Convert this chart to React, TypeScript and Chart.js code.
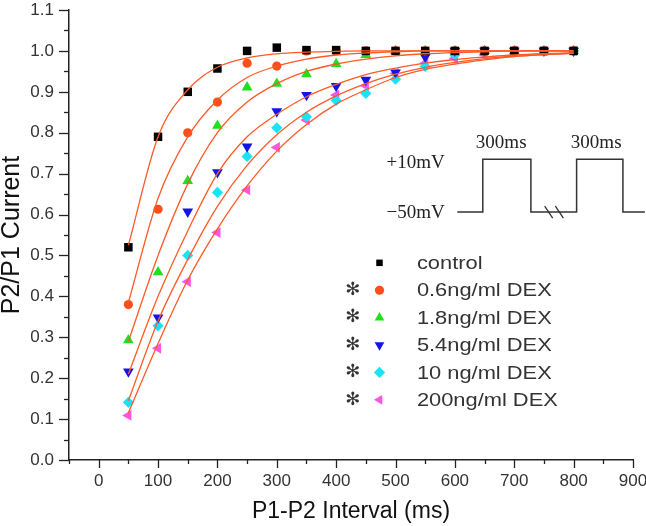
import React, { useEffect, useRef } from 'react';
import { Chart, registerables } from 'chart.js';

Chart.register(...registerables);

// ---------- data ----------
const intervals = [50, 100, 150, 200, 250, 300, 350, 400, 450, 500, 550, 600, 650, 700, 750, 800];

const seriesLabels = ['control', '0.6ng/ml DEX', '1.8ng/ml DEX', '5.4ng/ml DEX', '10 ng/ml DEX', '200ng/ml DEX'];
const significant = [false, true, true, true, true, true];

const controlData = [0.52, 0.79, 0.9, 0.957, 1.0, 1.008, 1.002, 1.002, 1.0, 1.0, 1.0, 1.0, 1.0, 1.0, 1.0, 1.0];
const dex06Data = [0.38, 0.613, 0.8, 0.875, 0.97, 0.963, 1.0, 1.0, 1.0, 1.0, 1.0, 1.0, 1.0, 1.0, 1.0, 1.0];
const dex18Data = [0.293, 0.459, 0.682, 0.817, 0.911, 0.92, 0.943, 0.968, 0.99, 1.0, 1.0, 1.0, 1.0, 1.0, 1.0, 1.0];
const dex54Data = [0.216, 0.348, 0.607, 0.703, 0.766, 0.852, 0.892, 0.914, 0.929, 0.947, 0.985, 1.0, 1.0, 1.0, 1.0, 1.0];
const dex10Data = [0.141, 0.328, 0.5, 0.654, 0.742, 0.812, 0.839, 0.879, 0.896, 0.931, 0.962, 0.99, 1.0, 1.0, 1.0, 1.0];
const dex200Data = [0.109, 0.273, 0.436, 0.556, 0.66, 0.764, 0.831, 0.892, 0.915, 0.945, 0.97, 0.982, 0.99, 1.0, 1.0, 1.0];

// fitted curves at the same intervals
const fitControl = [0.525, 0.79, 0.905, 0.96, 0.983, 0.993, 0.997, 0.999, 1.0, 1.0, 1.0, 1.0, 1.0, 1.0, 1.0, 1.0];
const fitDex06 = [0.385, 0.64, 0.79, 0.88, 0.935, 0.963, 0.98, 0.99, 0.995, 0.998, 1.0, 1.0, 1.0, 1.0, 1.0, 1.0];
const fitDex18 = [0.29, 0.5, 0.675, 0.8, 0.875, 0.92, 0.95, 0.968, 0.98, 0.988, 0.993, 0.996, 0.998, 1.0, 1.0, 1.0];
const fitDex54 = [0.21, 0.4, 0.56, 0.7, 0.79, 0.845, 0.888, 0.918, 0.942, 0.958, 0.97, 0.979, 0.985, 0.99, 0.993, 0.995];
const fitDex10 = [0.145, 0.34, 0.49, 0.62, 0.72, 0.795, 0.85, 0.89, 0.92, 0.943, 0.96, 0.972, 0.981, 0.987, 0.991, 0.994];
const fitDex200 = [0.115, 0.285, 0.44, 0.565, 0.67, 0.755, 0.82, 0.87, 0.905, 0.935, 0.955, 0.968, 0.978, 0.986, 0.991, 0.995];

const pointSeries = [controlData, dex06Data, dex18Data, dex54Data, dex10Data, dex200Data];
const fitSeries = [fitControl, fitDex06, fitDex18, fitDex54, fitDex10, fitDex200];

// ---------- styles / layout ----------
const pointColors = ['#000000', '#ff4d1c', '#1fe01f', '#1414e6', '#19e3f5', '#ff55e1'];
const pointStyles = ['rect', 'circle', 'triangle', 'triangle', 'rectRot', 'triangle'];
const pointRotations = [0, 0, 0, 180, 0, 270];
const pointRadii = [6, 4.6, 6.2, 6.2, 5.6, 6.2];
const fitColor = '#ff5a26';

// legend position (data units)
const legendTop = 0.482;
const legendStep = 0.067;
const legendStarX = 428;
const legendMarkX = 473;
const legendTextX = 536;

// inset (data units)
const pulseLow = 0.606;
const pulseHigh = 0.735;
const waveX = [604, 647, 647, 728, 728, 805, 805, 883, 883, 920];
const waveLevel = [0, 0, 1, 1, 0, 0, 1, 1, 0, 0];
const breakX = [758, 776];
const durationLabelX = [678, 838];
const durationLabelY = 0.774;
const voltLabelX = 583;

function drawMarker(ctx: CanvasRenderingContext2D, style: string, rot: number, x: number, y: number, r: number, color: string) {
  ctx.save();
  ctx.translate(x, y);
  ctx.rotate((rot * Math.PI) / 180);
  ctx.fillStyle = color;
  ctx.beginPath();
  if (style === 'rect') {
    const s = r * Math.SQRT1_2;
    ctx.rect(-s, -s, 2 * s, 2 * s);
  } else if (style === 'circle') {
    ctx.arc(0, 0, r, 0, Math.PI * 2);
  } else if (style === 'rectRot') {
    ctx.moveTo(0, -r);
    ctx.lineTo(r, 0);
    ctx.lineTo(0, r);
    ctx.lineTo(-r, 0);
    ctx.closePath();
  } else {
    const w = r * 0.866;
    ctx.moveTo(0, -r);
    ctx.lineTo(w, r * 0.5);
    ctx.lineTo(-w, r * 0.5);
    ctx.closePath();
  }
  ctx.fill();
  ctx.restore();
}

const overlayPlugin = {
  id: 'overlay',
  afterDraw(chart: any) {
    const ctx: CanvasRenderingContext2D = chart.ctx;
    const xs = chart.scales.x;
    const ys = chart.scales.y;
    const X = (v: number) => xs.getPixelForValue(v);
    const Y = (v: number) => ys.getPixelForValue(v);
    ctx.save();

    // axis tick marks (major + minor)
    ctx.strokeStyle = '#222';
    ctx.lineWidth = 1.3;
    xs.ticks.forEach((t: any) => {
      const px = Math.round(X(t.value)) + 0.5;
      const major = Math.round(t.value) % 100 === 0;
      const len = major ? 8 : 4;
      ctx.beginPath();
      ctx.moveTo(px, ys.bottom);
      ctx.lineTo(px, ys.bottom + len);
      ctx.stroke();
    });
    ys.ticks.forEach((t: any) => {
      const py = Math.round(Y(t.value)) + 0.5;
      const major = Math.round(t.value * 100) % 10 === 0;
      const len = major ? 10 : 5;
      ctx.beginPath();
      ctx.moveTo(xs.left, py);
      ctx.lineTo(xs.left - len, py);
      ctx.stroke();
    });

    // legend
    seriesLabels.forEach((lab, i) => {
      const cy = Y(legendTop - i * legendStep);
      if (significant[i]) {
        ctx.font = '18px "DejaVu Sans"';
        ctx.fillStyle = '#333';
        ctx.textAlign = 'center';
        ctx.textBaseline = 'middle';
        ctx.fillText('\u273B', X(legendStarX), cy);
      }
      const r = i <= 1 ? 4.6 : 5.6;
      drawMarker(ctx, pointStyles[i], pointRotations[i], X(legendMarkX), cy, r, pointColors[i]);
      ctx.save();
      ctx.translate(X(legendTextX), cy);
      ctx.scale(1.15, 1);
      ctx.font = '19px "Liberation Sans", Arial, sans-serif';
      ctx.fillStyle = '#333';
      ctx.textAlign = 'left';
      ctx.textBaseline = 'middle';
      ctx.fillText(lab, 0, 1);
      ctx.restore();
    });

    // inset: stimulation protocol
    ctx.strokeStyle = '#333';
    ctx.lineWidth = 1.5;
    ctx.beginPath();
    waveX.forEach((wx, i) => {
      const px = X(wx);
      const py = Y(waveLevel[i] ? pulseHigh : pulseLow);
      if (i === 0) ctx.moveTo(px, py);
      else ctx.lineTo(px, py);
    });
    ctx.stroke();
    ctx.lineWidth = 1.3;
    breakX.forEach((bx) => {
      const px = X(bx);
      const py = Y(pulseLow);
      ctx.beginPath();
      ctx.moveTo(px - 4, py - 6);
      ctx.lineTo(px + 4, py + 6);
      ctx.stroke();
    });
    ctx.font = '19px "Liberation Serif", "Times New Roman", serif';
    ctx.fillStyle = '#222';
    ctx.textBaseline = 'middle';
    ctx.textAlign = 'center';
    durationLabelX.forEach((dx) => ctx.fillText('300ms', X(dx), Y(durationLabelY)));
    ctx.textAlign = 'right';
    ctx.fillText('+10mV', X(voltLabelX), Y(pulseHigh) + 4);
    ctx.fillText('\u221250mV', X(voltLabelX), Y(pulseLow) + 1);

    ctx.restore();
  },
};

export default function App() {
  const ref = useRef<HTMLCanvasElement | null>(null);

  useEffect(() => {
    const canvas = ref.current;
    if (!canvas) return;

    const fitSets = fitSeries.map((arr, i) => ({
      label: 'fit ' + seriesLabels[i],
      data: intervals.map((x, j) => ({ x, y: arr[j] })),
      borderColor: fitColor,
      borderWidth: 1.3,
      pointRadius: 0,
      showLine: true,
      fill: false,
      cubicInterpolationMode: 'monotone' as const,
    }));
    const pointSets = pointSeries.map((arr, i) => ({
      label: seriesLabels[i],
      data: intervals.map((x, j) => ({ x, y: arr[j] })),
      showLine: false,
      pointStyle: pointStyles[i] as any,
      pointRotation: pointRotations[i],
      pointRadius: pointRadii[i],
      pointBackgroundColor: pointColors[i],
      pointBorderColor: pointColors[i],
      pointBorderWidth: 0,
      borderColor: pointColors[i],
    }));

    const chart = new Chart(canvas, {
      type: 'line',
      data: { datasets: [...fitSets, ...pointSets] as any },
      options: {
        animation: false,
        responsive: false,
        devicePixelRatio: 1,
        layout: { padding: { top: 10, right: 13, left: 0, bottom: 0 } },
        plugins: { legend: { display: false }, tooltip: { enabled: false } },
        scales: {
          x: {
            type: 'linear',
            min: -50,
            max: 900,
            afterFit: (s: any) => {
              s.height = 66;
              s.paddingLeft = 0;
              s.paddingRight = 0;
            },
            border: { display: true, color: '#222', width: 1.5 },
            grid: { display: true, drawOnChartArea: false, drawTicks: true, tickLength: 8, tickColor: 'rgba(0,0,0,0)' },
            ticks: {
              stepSize: 50,
              autoSkip: false,
              maxRotation: 0,
              padding: 3,
              color: '#333',
              font: { size: 17, family: '"Liberation Sans", Arial, sans-serif' },
              callback: (v: any) => (Math.round(Number(v)) % 100 === 0 ? String(Math.round(Number(v))) : ''),
            },
            title: {
              display: true,
              text: 'P1-P2 Interval (ms)',
              color: '#111',
              font: { size: 23, family: '"Liberation Sans", Arial, sans-serif', lineHeight: 1 },
              padding: { top: 0, bottom: 3 },
            },
          },
          y: {
            type: 'linear',
            min: 0,
            max: 1.1,
            afterFit: (s: any) => {
              s.width = 69;
              s.paddingTop = 0;
              s.paddingBottom = 0;
            },
            border: { display: true, color: '#222', width: 1.5 },
            grid: { display: true, drawOnChartArea: false, drawTicks: true, tickLength: 10, tickColor: 'rgba(0,0,0,0)' },
            ticks: {
              stepSize: 0.05,
              autoSkip: false,
              padding: 5,
              color: '#333',
              font: { size: 17, family: '"Liberation Sans", Arial, sans-serif' },
              callback: (v: any) => {
                const r = Math.round(Number(v) * 100);
                return r % 10 === 0 ? (r / 100).toFixed(1) : '';
              },
            },
            title: {
              display: true,
              text: 'P2/P1 Current',
              color: '#111',
              font: { size: 25, family: '"Liberation Sans", Arial, sans-serif', lineHeight: 1 },
              padding: { top: 0, bottom: 0 },
            },
          },
        },
      },
      plugins: [overlayPlugin],
    });

    return () => chart.destroy();
  }, []);

  return (
    <div style={{ position: 'absolute', left: 0, top: 0, width: 646, height: 526, background: '#fff' }}>
      <canvas ref={ref} width={646} height={526} style={{ display: 'block', width: 646, height: 526 }} />
    </div>
  );
}
